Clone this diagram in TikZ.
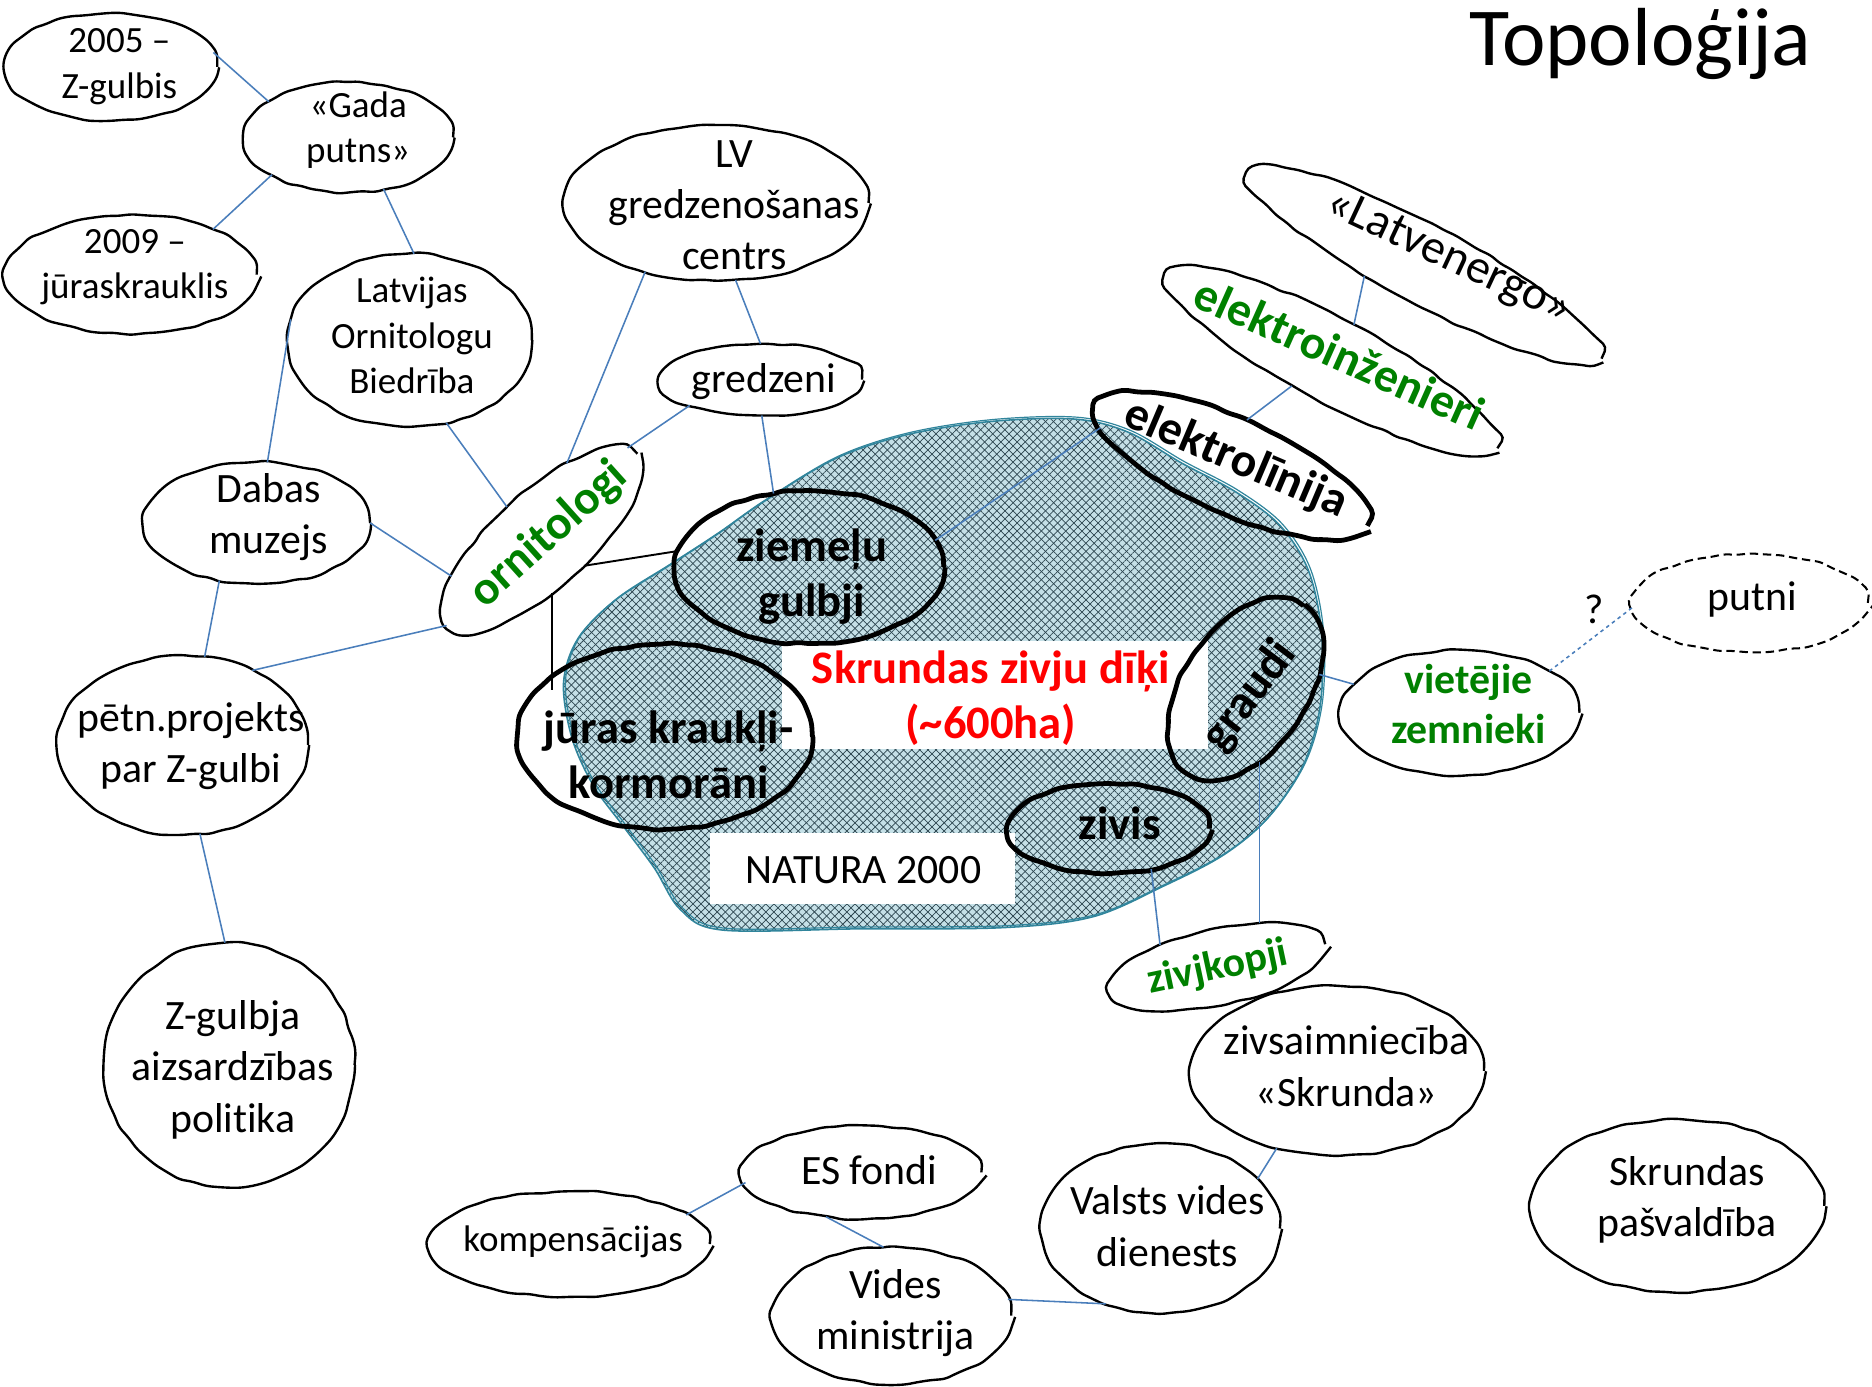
\documentclass[tikz,border=0pt]{standalone}
\usepackage{fontspec}
\setmainfont{Carlito}[Ligatures=NoCommon]
\usetikzlibrary{shapes.geometric,decorations.pathmorphing,patterns.meta,calc}
\definecolor{lvgreen}{RGB}{0,128,0}
\definecolor{lvred}{RGB}{255,0,0}
\definecolor{connblue}{RGB}{74,126,187}
\definecolor{lakefill}{RGB}{197,224,231}
\definecolor{lakeborder}{RGB}{49,133,156}
\definecolor{hatchc}{RGB}{45,70,80}
\begin{document}
\begin{tikzpicture}[x=1pt,y=-1pt,
  blob/.style={draw, ellipse, line width=2pt, inner sep=0pt, outer sep=0pt,
    decorate, decoration={random steps, segment length=11pt, amplitude=1.1pt}, rounded corners=4pt},
  thickblob/.style={blob, line width=4pt},
  dashblob/.style={blob, line width=1.7pt, dash pattern=on 7pt off 4pt},
  conn/.style={draw=connblue, line width=1.3pt},
  blk/.style={draw=black, line width=1.6pt},
  t31/.style={font=\fontsize{31}{38}\selectfont, align=center, inner sep=0pt},
  t35/.style={font=\fontsize{35}{43}\selectfont, align=center, inner sep=0pt},
  t40/.style={font=\fontsize{40}{46}\selectfont, align=center, inner sep=0pt},
  b35/.style={font=\fontsize{35}{42}\selectfont\bfseries, align=center, inner sep=0pt},
  b39/.style={font=\fontsize{39}{46}\selectfont\bfseries, align=center, inner sep=0pt},
  b40/.style={font=\fontsize{40}{46}\selectfont\bfseries, align=center, inner sep=0pt},
]
\pgfmathsetseed{11}
\useasboundingbox (0,0) rectangle (1568,1161);

% ---------- lake ----------
\def\lakepath{plot[smooth cycle, tension=0.55] coordinates {
 (640,420) (700,384) (760,364) (830,353) (900,351) (945,362) (990,388) (1035,412)
 (1072,440) (1096,478) (1107,530) (1106,590) (1092,640) (1062,685) (1025,716)
 (975,742) (915,768) (840,777) (720,778) (605,779) (570,762) (548,727) (522,692)
 (497,658) (479,618) (472,572) (484,535) (515,503) (560,474) (600,448)}}
\path[fill=lakefill] \lakepath;
\path[pattern={Lines[angle=45,distance=4.8pt,line width=0.6pt]}, pattern color=hatchc] \lakepath;
\path[pattern={Lines[angle=-45,distance=4.8pt,line width=0.6pt]}, pattern color=hatchc] \lakepath;
\draw[lakeborder, line width=1.3pt] \lakepath;
\begin{scope}[xshift=1.6pt, yshift=1.6pt]
\draw[lakeborder, line width=1pt] \lakepath;
\end{scope}

% white text boxes
\node[fill=white, inner sep=0pt, minimum width=357pt, minimum height=90pt] (skrbox) at (833.5,582) {};
\node[b39, text=lvred] (skr) at (830,585) {Skrundas zivju dīķi\\(\textasciitilde600ha)};
\node[fill=white, inner sep=0pt, minimum width=255pt, minimum height=59pt] (natbox) at (722.5,727.5) {};
\node[t35] (nat) at (723,729) {NATURA 2000};

% ---------- title ----------
\node[font=\fontsize{69}{80}\selectfont, inner sep=0pt] (title) at (1374,37) {Topoloģija};

% ---------- blobs ----------
\node[blob, minimum width=178pt, minimum height=90pt] (n2005) at (93,56) {};
\node[t31] (n2005-t) at (100,56) {2005 –\\Z-gulbis};
\node[blob, minimum width=175pt, minimum height=92pt] (gada) at (292,115) {};
\node[t31] (gada-t) at (300,109) {«Gada\\putns»};
\node[blob, minimum width=210pt, minimum height=100pt] (n2009) at (110,230) {};
\node[t31] (n2009-t) at (113,224) {2009 –\\jūraskrauklis};
\node[blob, minimum width=205pt, minimum height=145pt] (lob) at (343,285) {};
\node[t31] (lob-t) at (345,281) {Latvijas\\Ornitologu\\Biedrība};
\node[blob, minimum width=255pt, minimum height=130pt] (lvg) at (600,170) {};
\node[t35] (lvg-t) at (615,172) {LV\\gredzenošanas\\centrs};
\node[blob, minimum width=170pt, minimum height=60pt] (gred) at (637,318) {};
\node[t35] (gred-t) at (640,320) {gredzeni};
\node[blob, minimum width=190pt, minimum height=102pt] (dabas) at (215,438) {};
\node[t35] (dabas-t) at (225,433) {Dabas\\muzejs};
\node[blob, minimum width=210pt, minimum height=150pt] (petn) at (153,624) {};
\node[t35] (petn-t) at (160,625) {pētn.projekts\\par Z-gulbi};
\node[blob, minimum width=210pt, minimum height=205pt] (zgul) at (192,892) {};
\node[t35] (zgul-t) at (195,896) {Z-gulbja\\aizsardzības\\politika};

\node[blob, minimum width=215pt, minimum height=80pt, rotate=42] (orn) at (454,452) {};
\node[b40, text=lvgreen, rotate=42] (orn-t) at (460,448) {ornitologi};

\node[blob, minimum width=334pt, minimum height=66pt, rotate=-28] (latv) at (1194,222) {};
\node[t40, rotate=-25] (latv-t) at (1213,216) {«Latvenergo»};
\node[blob, minimum width=313pt, minimum height=70pt, rotate=-28] (einz) at (1116,302) {};
\node[b40, text=lvgreen, rotate=-24] (einz-t) at (1122,296) {elektroinženieri};
\node[thickblob, minimum width=248pt, minimum height=80pt, rotate=-24] (elin) at (1032,390) {};
\node[b40, rotate=-23] (elin-t) at (1035,385) {elektrolīnija};

\node[thickblob, minimum width=225pt, minimum height=128pt] (zie) at (678,475) {};
\node[b39] (zie-t) at (680,483) {ziemeļu\\gulbji};
\node[thickblob, minimum width=247pt, minimum height=155pt] (jur) at (557,617) {};
\node[b39] (jur-t) at (560,632) {jūras kraukļi-\\kormorāni};
\node[thickblob, minimum width=170pt, minimum height=104pt, rotate=55] (graudi) at (1043,577) {};
\node[b40, rotate=53] (graudi-t) at (1047,583) {graudi};
\node[thickblob, minimum width=168pt, minimum height=75pt] (zivis) at (929,694) {};
\node[b39] (zivis-t) at (938,690) {zivis};

\node[dashblob, minimum width=197pt, minimum height=82pt] (putni) at (1466,505) {};
\node[t35] (putni-t) at (1468,502) {putni};
\node[t35] (q) at (1335,510) {?};
\node[blob, minimum width=200pt, minimum height=105pt] (viet) at (1223,597) {};
\node[b35, text=lvgreen] (viet-t) at (1230,590) {vietējie\\zemnieki};
\node[blob, minimum width=184pt, minimum height=64pt, rotate=12] (zivj) at (1020,810) {};
\node[b35, text=lvgreen, rotate=12] (zivj-t) at (1020,811) {zivjkopji};
\node[blob, minimum width=246pt, minimum height=142pt] (zsaim) at (1120,897) {};
\node[t35] (zsaim-t) at (1128,893) {zivsaimniecība\\«Skrunda»};
\node[blob, minimum width=200pt, minimum height=78pt] (esf) at (722,982) {};
\node[t35] (esf-t) at (728,980) {ES fondi};
\node[blob, minimum width=235pt, minimum height=88pt] (komp) at (477,1042) {};
\node[t31] (komp-t) at (480,1040) {kompensācijas};
\node[blob, minimum width=200pt, minimum height=115pt] (vides) at (747,1102) {};
\node[t35] (vides-t) at (750,1100) {Vides\\ministrija};
\node[blob, minimum width=200pt, minimum height=142pt] (vvd) at (972,1029) {};
\node[t35] (vvd-t) at (978,1027) {Valsts vides\\dienests};
\node[blob, minimum width=246pt, minimum height=145pt] (pasv) at (1405,1010) {};
\node[t35] (pasv-t) at (1413,1005) {Skrundas\\pašvaldība};

% ---------- connectors ----------
\draw[conn] (n2005.8) -- (gada.156);
\draw[conn] (gada.206) -- (n2009.29);
\draw[conn] (gada.304) -- (lob.87);
\draw[conn] (lob.170) -- (dabas.80);
\draw[conn] (lob.294) -- (orn.95);
\draw[conn] (lvg.224) -- (orn.30);
\draw[conn] (lvg.284) -- (gred.90);
\draw[conn] (gred.200) -- (orn.5);
\draw[conn] (gred.272) -- (zie.116);
\draw[conn] (dabas.0) -- (orn.160);
\draw[conn] (dabas.237) -- (petn.76);
\draw[conn] (orn.180) -- (petn.47);
\draw[conn] (petn.281) -- (zgul.92);
\draw[blk] (orn.286) -- (zie.173);
\draw[blk] (orn.239) -- (orn.239 |- jur.160);
\draw[conn] (zie.12) -- (elin.188);
\draw[conn] (einz.240) -- (elin.96);
\draw[conn] (latv.218) -- (einz.87);
\draw[conn] (graudi.316) -- (viet.165);
\draw[conn] (graudi.226) -- (graudi.226 |- zivj.35);
\draw[conn] (zivis.316) -- (zivj.147);
\draw[conn, dashed] (viet.25) -- (putni.182);
\draw[conn] (zsaim.232) -- (vvd.27);
\draw[conn] (esf.185) -- (komp.14);
\draw[conn] (esf.231) -- (vides.97);
\draw[conn] (vides.8) -- (vvd.234);
\end{tikzpicture}
\end{document}
